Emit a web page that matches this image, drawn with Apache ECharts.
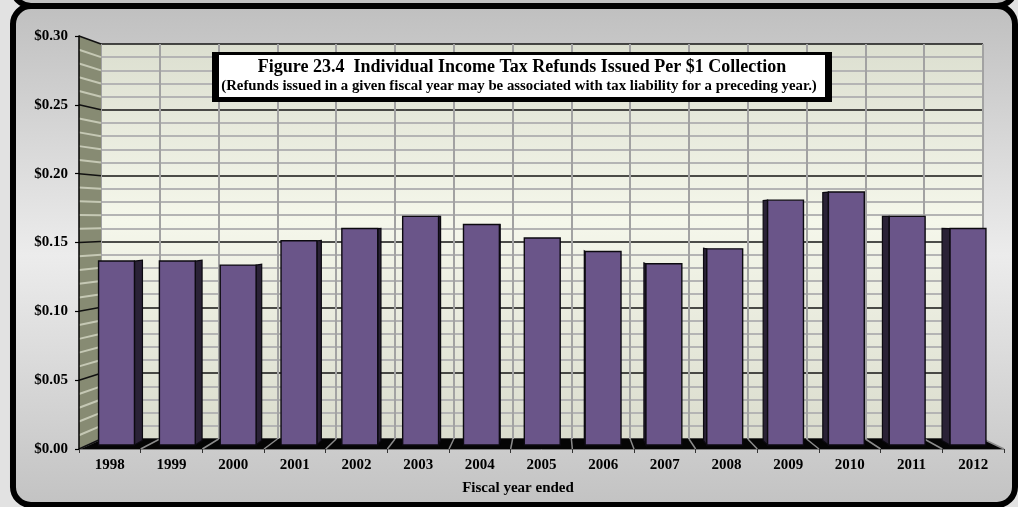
<!DOCTYPE html>
<html>
<head>
<meta charset="utf-8">
<script src="https://cdn.jsdelivr.net/npm/echarts@6/dist/echarts.min.js"></script>
<style>
  html, body { margin: 0; padding: 0; background: #e2e2e2; }
  #chart { width: 1018px; height: 507px; }
</style>
</head>
<body>
<div id="chart"></div>
<script>
// Fiscal years and refunds issued per $1 of individual income tax collected
const years = ['1998', '1999', '2000', '2001', '2002', '2003', '2004', '2005',
               '2006', '2007', '2008', '2009', '2010', '2011', '2012'];
const refundsPerDollar = [0.136, 0.136, 0.133, 0.151, 0.160, 0.169, 0.163, 0.153,
                          0.143, 0.134, 0.145, 0.181, 0.187, 0.169, 0.160];
const valueTicks = [0, 0.05, 0.10, 0.15, 0.20, 0.25, 0.30];
const valueTickLabels = ['$0.00', '$0.05', '$0.10', '$0.15', '$0.20', '$0.25', '$0.30'];
const titleText = 'Figure 23.4  Individual Income Tax Refunds Issued Per $1 Collection';
const subtitleText = '(Refunds issued in a given fiscal year may be associated with tax liability for a preceding year.)';
const axisTitle = 'Fiscal year ended';

// Pseudo-3D box: front plane (axes), back wall, and the plane the bar faces sit in
const FRONT = { left: 79, right: 1004, top: 36, bottom: 449 };
const WALL  = { left: 101, right: 983, top: 44, bottom: 439 };
const BARS  = { left: 86.1, right: 998.4, top: 39.2, bottom: 445 };
const EYE_LEVEL = 0.167;   // value at which the depth lines converge
const DEPTH = 0.0196;      // bar depth as a fraction toward the vanishing point
const VMAX = valueTicks[valueTicks.length - 1];
const SERIF = 'Liberation Serif, Times New Roman, serif';

const chart = echarts.init(document.getElementById('chart'), null, { renderer: 'canvas' });

const gridOf = b => ({ left: b.left, top: b.top, width: b.right - b.left, height: b.bottom - b.top });

chart.setOption({
  backgroundColor: '#e2e2e2',
  animation: false,
  grid: [
    gridOf(FRONT),
    Object.assign(gridOf(WALL), {
      show: true, borderWidth: 0,
      backgroundColor: new echarts.graphic.LinearGradient(0, 0, 0, 1, [
        { offset: 0, color: '#dcdfd0' },
        { offset: 0.45, color: '#f5f7eb' },
        { offset: 1, color: '#dadccd' }
      ])
    }),
    gridOf(BARS)
  ],
  xAxis: [
    {
      gridIndex: 0, type: 'category', data: years, z: 3,
      axisLine: { show: true, lineStyle: { color: '#808080', width: 1 } },
      axisTick: { show: true, length: 4, lineStyle: { color: '#333' } },
      axisLabel: { fontFamily: SERIF, fontWeight: 'bold', fontSize: 15, color: '#000', margin: 9 },
      splitLine: { show: false }
    },
    {
      gridIndex: 1, type: 'category', data: years,
      axisLine: { show: false }, axisTick: { show: false }, axisLabel: { show: false },
      splitLine: { show: true, lineStyle: { color: '#a2a2a2', width: 2 } }
    },
    { gridIndex: 2, type: 'category', data: years, show: false }
  ],
  yAxis: [
    {
      gridIndex: 0, type: 'value', min: 0, max: VMAX, interval: 0.05, z: 3,
      axisLine: { show: true, lineStyle: { color: '#000', width: 1.5 } },
      axisTick: { show: true, length: 4, lineStyle: { color: '#000', width: 1.2 } },
      axisLabel: {
        fontFamily: SERIF, fontWeight: 'bold', fontSize: 15, color: '#000', margin: 11,
        formatter: v => {
          const k = valueTicks.findIndex(t => Math.abs(t - v) < 1e-9);
          return k >= 0 ? valueTickLabels[k] : '';
        }
      },
      splitLine: { show: false }
    },
    {
      gridIndex: 1, type: 'value', min: 0, max: VMAX, interval: 0.05,
      axisLine: { show: false }, axisTick: { show: false }, axisLabel: { show: false },
      splitLine: { show: true, lineStyle: { color: '#141414', width: 1.5 } },
      minorTick: { show: false, splitNumber: 5 },
      minorSplitLine: { show: true, lineStyle: { color: '#b4b4b4', width: 2 } }
    },
    { gridIndex: 2, type: 'value', min: 0, max: VMAX, show: false }
  ],
  series: [
    {
      type: 'custom',
      xAxisIndex: 2, yAxisIndex: 2, z: 5,
      data: refundsPerDollar.map((v, i) => [i, v]),
      renderItem(params, api) {
        const i = api.value(0), v = api.value(1);
        const top = api.coord([i, v]);
        const base = api.coord([i, 0]);
        const band = api.size([1, 0])[0];
        const w = band * 0.59;
        const x0 = top[0] - w / 2, x1 = top[0] + w / 2;
        const vpx = (api.coord([0, 0])[0] + api.coord([years.length - 1, 0])[0]) / 2;
        const vpy = api.coord([0, EYE_LEVEL])[1];
        const far = (x, y) => [x + DEPTH * (vpx - x), y + DEPTH * (vpy - y)];
        const children = [];
        if (Math.abs(top[0] - vpx) > 1) {
          const sx = top[0] < vpx ? x1 : x0;
          children.push({
            type: 'polygon',
            shape: { points: [[sx, top[1]], far(sx, top[1]), far(sx, base[1]), [sx, base[1]]] },
            style: { fill: '#2a2236', stroke: '#0c0a10', lineWidth: 1.2 }
          });
        }
        children.push({
          type: 'rect',
          shape: { x: x0, y: top[1], width: w, height: base[1] - top[1] },
          style: { fill: '#6a5589', stroke: '#0c0a10', lineWidth: 1.4 }
        });
        return { type: 'group', children };
      }
    }
  ]
});

// Decorative frame, left wall, floor and caption, placed with the axes' own scales
const yF = v => chart.convertToPixel({ yAxisIndex: 0 }, v);
const yB = v => chart.convertToPixel({ yAxisIndex: 1 }, v);

const graphics = [];

// previous panel edge and the main rounded panel
graphics.push({
  type: 'rect', z: -11,
  shape: { x: 13, y: -40, width: 1002, height: 46, r: 18 },
  style: { fill: '#c0c0c0', stroke: '#000', lineWidth: 6 }
});
graphics.push({
  type: 'rect', z: -10,
  shape: { x: 13, y: 6, width: 1002, height: 499, r: 18 },
  style: {
    fill: new echarts.graphic.LinearGradient(0, 0, 0, 1, [
      { offset: 0, color: '#bfbfbf' },
      { offset: 0.5, color: '#ececec' },
      { offset: 1, color: '#c2c2c2' }
    ]),
    stroke: '#000', lineWidth: 6
  }
});

// left wall
graphics.push({
  type: 'polygon', z: 1,
  shape: { points: [[FRONT.left, yF(VMAX)], [WALL.left, yB(VMAX)], [WALL.left, yB(0)], [FRONT.left, yF(0)]] },
  style: { fill: '#878b73' }
});
const steps = Math.round(VMAX / 0.01);
for (let m = 0; m <= steps; m++) {
  const v = m * 0.01;
  const major = m % 5 === 0;
  graphics.push({
    type: 'line', z: major ? 2 : 1.5,
    shape: { x1: FRONT.left, y1: yF(v), x2: WALL.left, y2: yB(v) },
    style: { stroke: major ? '#111' : '#c5c8b4', lineWidth: major ? 1.5 : 2 }
  });
}

// floor
graphics.push({
  type: 'polygon', z: 1,
  shape: { points: [[FRONT.left, FRONT.bottom], [FRONT.right, FRONT.bottom], [WALL.right, WALL.bottom], [WALL.left, WALL.bottom]] },
  style: { fill: '#050505' }
});
const n = years.length;
for (let k = 0; k <= n; k++) {
  graphics.push({
    type: 'line', z: 1.5,
    shape: {
      x1: WALL.left + k * (WALL.right - WALL.left) / n, y1: WALL.bottom,
      x2: FRONT.left + k * (FRONT.right - FRONT.left) / n, y2: FRONT.bottom
    },
    style: { stroke: '#8c8c8c', lineWidth: 1.5 }
  });
}

// caption box
graphics.push({
  type: 'rect', z: 10,
  shape: { x: 212, y: 52, width: 620, height: 50 },
  style: { fill: '#000' }
});
graphics.push({
  type: 'rect', z: 11,
  shape: { x: 219, y: 55, width: 606, height: 42 },
  style: { fill: '#fff' }
});
graphics.push({
  type: 'text', z: 12, x: 522, y: 67,
  style: { text: titleText, font: 'bold 18px ' + SERIF, fill: '#000', align: 'center', verticalAlign: 'middle' }
});
graphics.push({
  type: 'text', z: 12, x: 519, y: 86,
  style: { text: subtitleText, font: 'bold 14.8px ' + SERIF, fill: '#000', align: 'center', verticalAlign: 'middle' }
});

// x-axis title
graphics.push({
  type: 'text', z: 12, x: 518, y: 488,
  style: { text: axisTitle, font: 'bold 15px ' + SERIF, fill: '#000', align: 'center', verticalAlign: 'middle' }
});

chart.setOption({ graphic: graphics });
</script>
</body>
</html>
